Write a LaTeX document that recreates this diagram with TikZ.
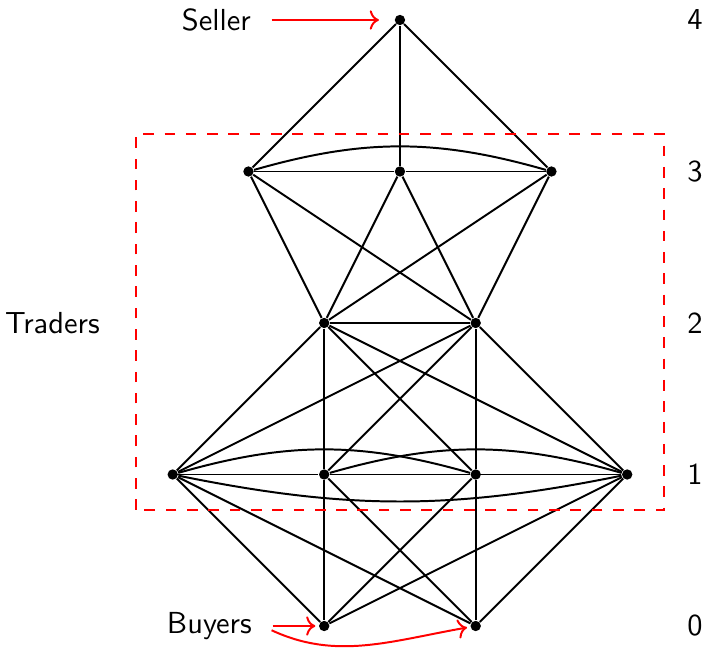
\documentclass[tikz,border=0pt]{standalone}
\usepackage{amsmath,amssymb}
\usepackage{xcolor}
\usepackage{tikz}
\usetikzlibrary{arrows.meta}

\begin{document}
\begin{tikzpicture}[
    x=1.75cm, y=1.75cm,
    font=\sffamily,
    dot/.style={circle, fill=black, inner sep=0pt, minimum size=3.4pt},
    edge/.style={line width=0.65pt},
    redarrow/.style={->, red, line width=0.65pt},
    traderbox/.style={red, line width=0.65pt, dash pattern=on 3.5pt off 3.5pt}
]
\useasboundingbox (-2.640,-0.145) rectangle (2.020,4.132);
% vertices
\node[dot] (top) at (0,4) {};
\node[dot] (u1) at (-1,3) {};
\node[dot] (u2) at (0,3) {};
\node[dot] (u3) at (1,3) {};
\node[dot] (m1) at (-0.5,2) {};
\node[dot] (m2) at (0.5,2) {};
\node[dot] (l1) at (-1.5,1) {};
\node[dot] (l2) at (-0.5,1) {};
\node[dot] (l3) at (0.5,1) {};
\node[dot] (l4) at (1.5,1) {};
\node[dot] (b1) at (-0.5,0) {};
\node[dot] (b2) at (0.5,0) {};
% labels
\node (sellerlbl) at (-1.212,4) {Seller};
\node (traderslbl) at (-2.294,2) {Traders};
\node (buyerslbl) at (-1.258,0) {Buyers};
\node (lev4) at (1.947,4) {4};
\node (lev3) at (1.947,3) {3};
\node (lev2) at (1.947,2) {2};
\node (lev1) at (1.947,1) {1};
\node (lev0) at (1.947,0) {0};
% seller to level 3
\draw[edge] (top) -- (u1);
\draw[edge] (top) -- (u2);
\draw[edge] (top) -- (u3);
\draw[edge] (u1) -- (u2);
\draw[edge] (u2) -- (u3);
\draw[edge] (u1) to[bend left=16] (u3);
% level 3 to level 2
\draw[edge] (u1) -- (m1);
\draw[edge] (u1) -- (m2);
\draw[edge] (u2) -- (m1);
\draw[edge] (u2) -- (m2);
\draw[edge] (u3) -- (m1);
\draw[edge] (u3) -- (m2);
\draw[edge] (m1) -- (m2);
% level 2 to level 1
\draw[edge] (m1) -- (l1);
\draw[edge] (m1) -- (l2);
\draw[edge] (m1) -- (l3);
\draw[edge] (m1) -- (l4);
\draw[edge] (m2) -- (l1);
\draw[edge] (m2) -- (l2);
\draw[edge] (m2) -- (l3);
\draw[edge] (m2) -- (l4);
% level 1
\draw[edge] (l1) -- (l2);
\draw[edge] (l2) -- (l3);
\draw[edge] (l3) -- (l4);
\draw[edge] (l1) to[bend left=16] (l3);
\draw[edge] (l2) to[bend left=16] (l4);
\draw[edge] (l1) to[bend right=11.5] (l4);
% level 1 to buyers
\draw[edge] (l1) -- (b1);
\draw[edge] (l1) -- (b2);
\draw[edge] (l2) -- (b1);
\draw[edge] (l2) -- (b2);
\draw[edge] (l3) -- (b1);
\draw[edge] (l3) -- (b2);
\draw[edge] (l4) -- (b1);
\draw[edge] (l4) -- (b2);
% traders box
\draw[traderbox] (-1.743,0.766) rectangle (1.743,3.248);
% red arrows
\draw[redarrow, shorten <=3.3pt, shorten >=5pt] (sellerlbl.east) -- (top);
\draw[redarrow, shorten <=3.3pt, shorten >=1pt] (buyerslbl.east) -- (b1);
\draw[redarrow, shorten <=3.3pt, shorten >=1pt] (buyerslbl.east) to[out=-25, in=190] (b2);
\end{tikzpicture}
\end{document}
